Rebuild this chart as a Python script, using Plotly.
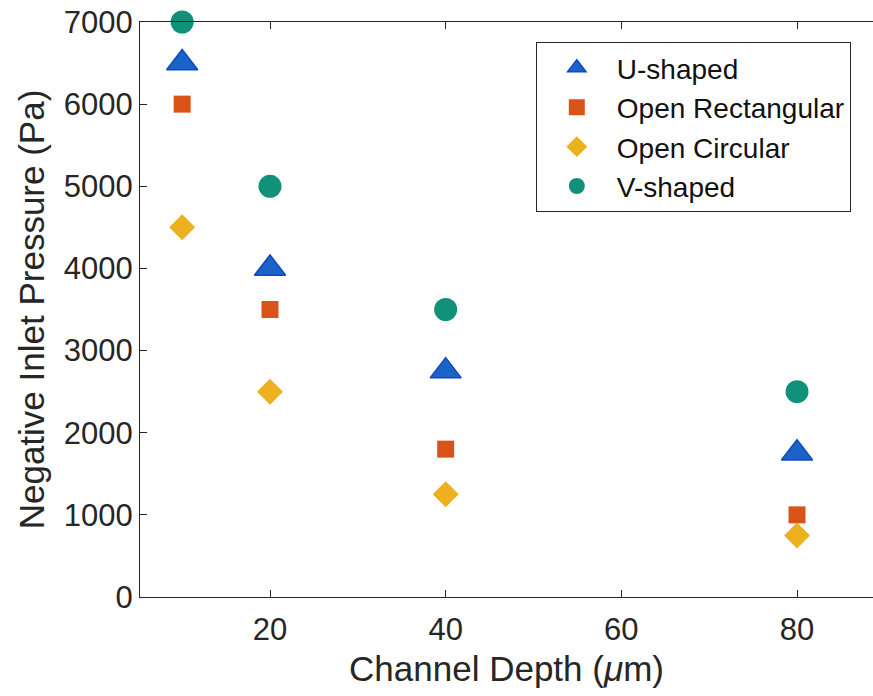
import plotly.graph_objects as go

depth = [10, 20, 40, 80]
u_shaped = [6500, 4000, 2750, 1750]
open_rect = [6000, 3500, 1800, 1000]
open_circ = [4500, 2500, 1250, 750]
v_shaped = [7000, 5000, 3500, 2500]

x_ticks = [20, 40, 60, 80]
y_ticks = [0, 1000, 2000, 3000, 4000, 5000, 6000, 7000]

FONT = "Liberation Sans, Arial, sans-serif"
TXT = "#262626"

fig = go.Figure()
fig.add_trace(go.Scatter(x=depth, y=u_shaped, mode="markers", name="U-shaped", legendgroup="a",
                         cliponaxis=False,
                         marker=dict(symbol="triangle-up", size=27, color="#1b63c6",
                                     line=dict(color="#0a4cbf", width=1.5))))
fig.add_trace(go.Scatter(x=depth, y=open_rect, mode="markers", name="Open Rectangular", legendgroup="b",
                         cliponaxis=False,
                         marker=dict(symbol="square", size=17, color="#d95319", line=dict(width=0))))
fig.add_trace(go.Scatter(x=depth, y=open_circ, mode="markers", name="Open Circular", legendgroup="c",
                         cliponaxis=False,
                         marker=dict(symbol="diamond", size=20, color="#edb120", line=dict(width=0))))
fig.add_trace(go.Scatter(x=depth, y=v_shaped, mode="markers", name="V-shaped", legendgroup="d",
                         cliponaxis=False,
                         marker=dict(symbol="circle", size=23, color="#12917a", line=dict(width=0))))

fig.update_layout(
    width=873, height=696,
    margin=dict(l=140, r=0, t=22, b=99),
    plot_bgcolor="white", paper_bgcolor="white",
    font=dict(family=FONT, color=TXT),
    showlegend=True,
    legend=dict(x=0.540, y=0.965, xanchor="left", yanchor="top",
                bordercolor=TXT, borderwidth=1, bgcolor="white",
                font=dict(size=28, color="#111111", family=FONT),
                tracegroupgap=0, itemwidth=70, itemsizing="trace"),
    xaxis=dict(range=[5.2, 88.65], tickvals=x_ticks, ticks="inside", ticklen=7,
               tickcolor=TXT, showline=True, linecolor=TXT, linewidth=1, mirror="ticks",
               showgrid=False, zeroline=False, tickfont=dict(size=31, color=TXT),
               ticklabelstandoff=5,
               title=dict(text="Channel Depth (<i>μ</i>m)", font=dict(size=35, color=TXT), standoff=10)),
    yaxis=dict(range=[0, 7000], tickvals=y_ticks, ticks="inside", ticklen=7,
               tickcolor=TXT, showline=True, linecolor=TXT, linewidth=1, mirror=False,
               showgrid=False, zeroline=False, tickfont=dict(size=31, color=TXT),
               title=dict(text="Negative Inlet Pressure (Pa)", font=dict(size=35, color=TXT), standoff=8)),
)

fig.write_html("out.html")
